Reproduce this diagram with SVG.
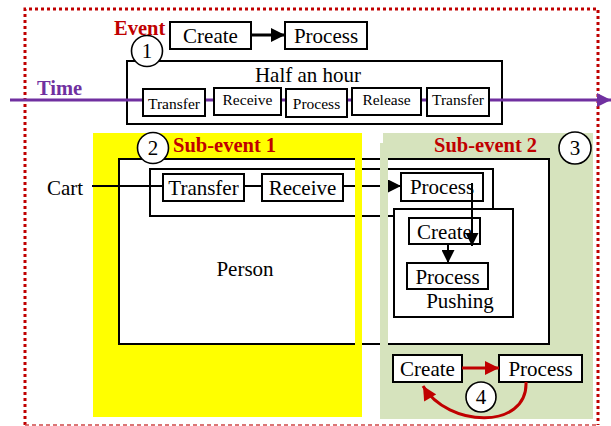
<svg xmlns="http://www.w3.org/2000/svg" width="611" height="426" viewBox="0 0 611 426">
<defs>
<style>
.box{fill:#fff;stroke:#000;stroke-width:2}
.frame{fill:none;stroke:#000;stroke-width:2}
.t{font-family:"Liberation Serif","Times New Roman",serif;font-size:21px;fill:#000;text-anchor:middle}
.ts{font-family:"Liberation Serif","Times New Roman",serif;font-size:15.5px;fill:#000;text-anchor:middle}
.red{font-family:"Liberation Serif","Times New Roman",serif;font-size:20.5px;font-weight:bold;fill:#c00000}
.num{fill:#fff;stroke:#000;stroke-width:1.6}
.blk{stroke:#000;fill:none}
.redl{stroke:#c00000;fill:none;stroke-width:3}
</style>
<marker id="ab" viewBox="0 0 10 10" refX="10" refY="5" markerWidth="14" markerHeight="14" markerUnits="userSpaceOnUse" orient="auto"><path d="M0,0 L10,5 L0,10 Z" fill="#000"/></marker>
<marker id="ab2" viewBox="0 0 10 10" refX="10" refY="5" markerWidth="13" markerHeight="13" markerUnits="userSpaceOnUse" orient="auto"><path d="M0,0 L10,5 L0,10 Z" fill="#000"/></marker>
<marker id="ar" viewBox="0 0 10 10" refX="10" refY="5" markerWidth="16" markerHeight="14" markerUnits="userSpaceOnUse" orient="auto"><path d="M0,0 L10,5 L0,10 Z" fill="#c00000"/></marker>
<marker id="ap" viewBox="0 0 10 10" refX="10" refY="5" markerWidth="14" markerHeight="14" markerUnits="userSpaceOnUse" orient="auto"><path d="M0,0 L10,5 L0,10 Z" fill="#7030a0"/></marker>
</defs>

<!-- outer event border -->
<g id="event-border">
<path d="M25,425 V9 H598 V425" fill="none" stroke="#c00000" stroke-width="3" stroke-dasharray="3,3"/>
<path d="M25,425 H598" fill="none" stroke="#d04848" stroke-width="1.5" stroke-dasharray="4,3"/>
</g>

<!-- sub-event backgrounds -->
<rect id="sub1-bg" x="93" y="133" width="269" height="284" fill="#ffff00"/>
<rect id="sub2-bg" x="383" y="133" width="210" height="286" fill="#d6e3bd"/>

<g id="event-label"><text class="red" x="114" y="35">Event</text></g>
<g id="time-label"><text class="red" x="37" y="95" style="fill:#7030a0">Time</text></g>

<g id="half-hour"><rect class="box" x="127" y="61" width="375" height="63"/><text class="t" x="308" y="82">Half an hour</text></g>

<g id="connectors">
<line x1="10" y1="100" x2="611" y2="100" stroke="#7030a0" stroke-width="3" marker-end="url(#ap)"/>
<line class="blk" x1="251" y1="35" x2="285" y2="35" stroke-width="3" marker-end="url(#ab)"/>
</g>

<g id="n-create-top"><rect class="box" x="170" y="22" width="81" height="27"/><text class="t" x="210.5" y="43">Create</text></g>
<g id="n-process-top"><rect class="box" x="285" y="22" width="82" height="27"/><text class="t" x="326" y="43">Process</text></g>

<g id="h-transfer1"><rect class="box" x="143" y="89" width="62" height="27"/><text class="ts" x="174" y="109">Transfer</text></g>
<g id="h-receive"><rect class="box" x="214" y="88" width="67" height="27"/><text class="ts" x="247.5" y="105">Receive</text></g>
<g id="h-process"><rect class="box" x="286" y="89" width="61" height="28"/><text class="ts" x="316.5" y="109">Process</text></g>
<g id="h-release"><rect class="box" x="352" y="88" width="69" height="27"/><text class="ts" x="386.5" y="105">Release</text></g>
<g id="h-transfer2"><rect class="box" x="427" y="88" width="62" height="28"/><text class="ts" x="458" y="105">Transfer</text></g>

<g id="c1"><circle class="num" cx="147" cy="51" r="15.5"/><text class="t" x="147" y="58">1</text></g>

<g id="person"><rect class="box" x="119" y="159" width="430" height="185"/><text class="t" x="245" y="276">Person</text></g>
<g id="cart-group"><rect class="frame" x="150" y="169" width="343" height="47"/></g>

<g id="connectors-cart">
<line class="blk" x1="92" y1="186" x2="163" y2="186" stroke-width="2"/>
<line class="blk" x1="244" y1="186" x2="262" y2="186" stroke-width="2"/>
<line class="blk" x1="343" y1="186" x2="401" y2="186" stroke-width="2" marker-end="url(#ab2)"/>
</g>
<text class="t" x="65" y="195">Cart</text>

<g id="s-transfer"><rect class="box" x="163" y="174" width="81" height="27"/><text class="t" x="203.5" y="195">Transfer</text></g>
<g id="s-receive"><rect class="box" x="262" y="174" width="81" height="27"/><text class="t" x="302.5" y="195">Receive</text></g>
<g id="s-process"><rect class="box" x="401" y="173" width="82" height="28"/><text class="t" x="442" y="194">Process</text></g>

<g id="pushing"><rect class="box" x="394" y="209" width="119" height="108"/><text class="t" x="460" y="308">Pushing</text></g>
<g id="p-create"><rect class="box" x="409" y="218" width="71" height="26"/><text class="t" x="444.5" y="239">Create</text></g>
<g id="p-process"><rect class="box" x="407" y="263" width="81" height="26"/><text class="t" x="447.5" y="284">Process</text></g>

<g id="connectors-push">
<line class="blk" x1="472" y1="183" x2="472" y2="246" stroke-width="2" marker-end="url(#ab2)"/>
<line class="blk" x1="448" y1="244" x2="448" y2="263" stroke-width="2" marker-end="url(#ab2)"/>
</g>

<!-- stripes of sub-event frames on top -->
<rect x="355" y="140" width="7" height="277" fill="#ffff00"/>
<rect x="380" y="143" width="8" height="276" fill="#d6e3bd"/>

<g id="sub1-label"><text class="red" x="173" y="152">Sub-event 1</text></g>
<g id="sub2-label"><text class="red" x="434" y="152">Sub-event 2</text></g>
<g id="c2"><circle class="num" cx="153" cy="148" r="15.5"/><text class="t" x="153" y="155">2</text></g>
<g id="c3"><circle class="num" cx="575" cy="148" r="16"/><text class="t" x="575" y="155">3</text></g>

<g id="b-create"><rect class="box" x="393" y="355" width="69" height="27"/><text class="t" x="427.5" y="376">Create</text></g>
<g id="b-process"><rect class="box" x="499" y="355" width="83" height="27"/><text class="t" x="540.5" y="376">Process</text></g>
<g id="connectors-red">
<line class="redl" x1="462" y1="368" x2="499" y2="368" marker-end="url(#ar)"/>
<path class="redl" d="M526,382 C528,430 448,428 423,386" marker-end="url(#ar)"/>
</g>
<g id="c4"><circle class="num" cx="481" cy="397" r="15"/><text class="t" x="481" y="404">4</text></g>
</svg>
